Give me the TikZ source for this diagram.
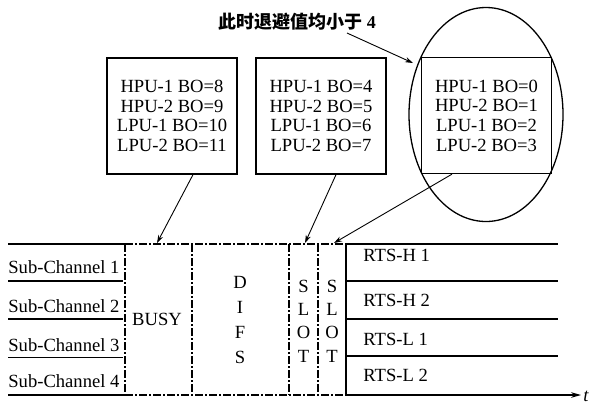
\documentclass[tikz,border=0pt]{standalone}
\usepackage{fontspec}
\setmainfont{Liberation Serif}
\newfontfamily\cjk{Noto Sans CJK SC}
\usetikzlibrary{shapes.geometric,arrows.meta}

\tikzset{
  bobox/.style={draw, line width=0.65pt, minimum width=65pt, minimum height=58pt,
    inner sep=0pt, align=center, font=\fontsize{9.3}{9.8}\selectfont},
  solidln/.style={line width=0.6pt},
  dashdot/.style={line width=0.6pt, dash pattern=on 4pt off 1.2pt on 0.6pt off 1.2pt},
  conn/.style={line width=0.45pt, -{Stealth[length=4pt,width=2.6pt]}},
  lab/.style={inner sep=0pt, font=\fontsize{9.3}{11}\selectfont},
  vlab/.style={inner sep=0pt, align=center},
}

\begin{document}
\begin{tikzpicture}[x=0.5pt,y=-0.5pt]
\useasboundingbox (0,0) rectangle (589,404);

% backoff boxes
\node[bobox] (b1) at (172,116) {HPU-1 BO=8\\HPU-2 BO=9\\LPU-1 BO=10\\LPU-2 BO=11};
\node[bobox] (b2) at (321,116) {HPU-1 BO=4\\HPU-2 BO=5\\LPU-1 BO=6\\LPU-2 BO=7};
\node[bobox] (b3) at (486.5,115.5) {HPU-1 BO=0\\HPU-2 BO=1\\LPU-1 BO=2\\LPU-2 BO=3};
\node[draw, ellipse, line width=0.65pt, minimum width=77pt, minimum height=107pt,
      inner sep=0pt] (ov) at (486,114.5) {};

% annotation
\node[inner sep=0pt, font=\fontsize{9}{10}\selectfont] (lbl) at (297,21.5) {{\cjk\bfseries 此时退避值均小于} \textbf{4}};
\coordinate (ls) at (347,33);
\coordinate (le) at (413,63);
\draw[conn] (ls) -- (le);

% time axis frame
\coordinate (tl) at (8,244);
\coordinate (tb) at (125,244);
\coordinate (tr) at (346,244);
\coordinate (te) at (558,244);
\coordinate (bl) at (8,395);
\coordinate (bb) at (125,395);
\coordinate (br) at (346,395);
\coordinate (be) at (581,395);

\draw[solidln] (tl) -- (tb);
\draw[dashdot] (tb) -- (tr);
\draw[solidln] (tr) -- (te);
\draw[solidln] (bl) -- (bb);
\draw[dashdot] (bb) -- (br);
\draw[solidln, -{Stealth[length=5pt,width=2.8pt]}] (br) -- (be);
\node[inner sep=0pt, anchor=base west, font=\fontsize{9.3}{11}\selectfont\itshape] (tlab) at (583,401) {t};

% sub-channel separators
\foreach \yy in {281,319,357.5}
  \draw[solidln] (8,\yy) -- (123,\yy);
% RTS separators
\foreach \yy in {281,319,356}
  \draw[solidln] (346,\yy) -- (558,\yy);

% period boundaries
\foreach \xx in {125,192,289,318}
  \draw[dashdot] (\xx,244) -- (\xx,395);
\draw[solidln] (346,244) -- (346,395);

% channel labels
\node[lab, anchor=base west] (c1) at (8,273) {Sub-Channel 1};
\node[lab, anchor=base west] (c2) at (8,312) {Sub-Channel 2};
\node[lab, anchor=base west] (c3) at (8,351) {Sub-Channel 3};
\node[lab, anchor=base west] (c4) at (8,387) {Sub-Channel 4};

\node[lab, anchor=base west] (r1) at (363,261.5) {RTS-H 1};
\node[lab, anchor=base west] (r2) at (363,306.5) {RTS-H 2};
\node[lab, anchor=base west] (r3) at (363,345) {RTS-L 1};
\node[lab, anchor=base west] (r4) at (363,381.5) {RTS-L 2};

\node[lab, anchor=base] (busy) at (157,325) {BUSY};
\node[vlab, font=\fontsize{9.3}{12.5}\selectfont] (difs) at (240,319.5) {D\\I\\F\\S};
\node[vlab, font=\fontsize{9.3}{11.7}\selectfont] (s1) at (303.5,321) {S\\L\\O\\T};
\node[vlab, font=\fontsize{9.3}{11.7}\selectfont] (s2) at (332,321) {S\\L\\O\\T};

% arrows from boxes to slot boundaries
\coordinate (t1) at (157,243);
\coordinate (t2) at (305,243);
\coordinate (t3) at (334,243);
\draw[conn] ([xshift=10.5pt]b1.south) -- (t1);
\draw[conn] ([xshift=7.5pt]b2.south) -- (t2);
\draw[conn] ([xshift=-17.25pt]b3.south) -- (t3);
\end{tikzpicture}
\end{document}
